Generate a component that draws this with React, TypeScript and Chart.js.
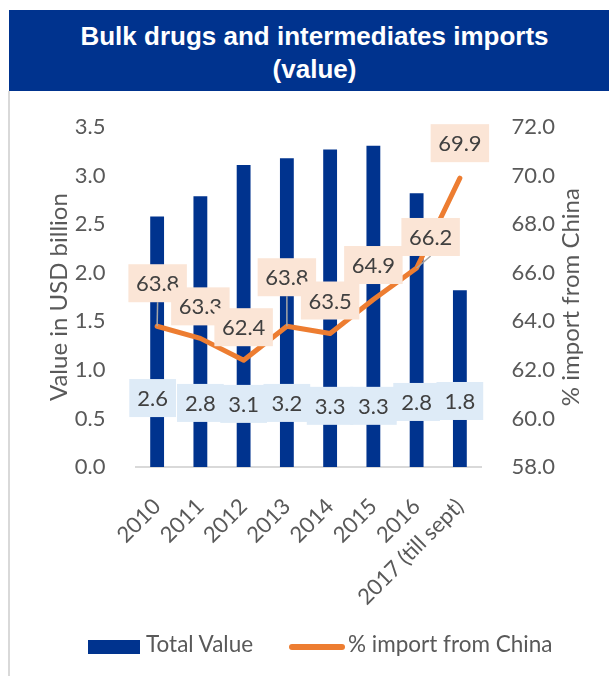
import React, { useEffect, useRef } from 'react';
import { Chart, registerables } from 'chart.js';

Chart.register(...registerables);

// ---------- data ----------
const categories = ['2010', '2011', '2012', '2013', '2014', '2015', '2016', '2017 (till sept)'];
const totalValue = [2.58, 2.79, 3.11, 3.18, 3.27, 3.31, 2.82, 1.82];
const chinaShare = [63.8, 63.3, 62.4, 63.8, 63.5, 64.9, 66.2, 69.9];

const titleLines = ['Bulk drugs and intermediates imports', '(value)'];
const leftAxisTitle = 'Value in USD billion';
const rightAxisTitle = '% import from China';
const barSeriesName = 'Total Value';
const lineSeriesName = '% import from China';

// ---------- styling ----------
const BLUE = '#00338E';
const ORANGE = '#ED7D31';
const TICK_COLOR = '#595959';
const LABEL_COLOR = '#404040';
const FONT = 'Lato';

// label placement (pixel offsets from the mark, and bar-label anchor values)
const lineLabelDx = [0.5, 0, 0, 0, 0, 0, 14, 0];
const lineLabelDy = [-43, -32, -33, -49, -33, -34.5, -31, -35];
const lineLabelLeader = [true, false, false, true, false, false, true, false];
const barLabelDx = [-4.5, 0, 0, 0, 0, 0, 0, 0];
const barLabelAt = [0.71, 0.66, 0.65, 0.66, 0.63, 0.63, 0.67, 0.68];

const labelPlugin = {
  id: 'customLabels',
  afterDatasetsDraw(chart: any) {
    const ctx = chart.ctx as CanvasRenderingContext2D;
    const yScale = chart.scales.y;
    const barMeta = chart.getDatasetMeta(0);
    const lineMeta = chart.getDatasetMeta(1);
    ctx.save();
    ctx.font = `22px ${FONT}`;
    ctx.textAlign = 'center';
    ctx.textBaseline = 'middle';
    const H = 38;

    // bar value labels
    barMeta.data.forEach((bar: any, i: number) => {
      const text = totalValue[i].toFixed(1);
      const w = ctx.measureText(text).width + 16;
      const cx = bar.x + barLabelDx[i];
      const cy = yScale.getPixelForValue(barLabelAt[i]);
      ctx.fillStyle = '#DEEBF7';
      ctx.fillRect(cx - w / 2, cy - H / 2, w, H);
      ctx.fillStyle = LABEL_COLOR;
      ctx.fillText(text, cx, cy + 1);
    });

    // line value labels
    lineMeta.data.forEach((pt: any, i: number) => {
      const text = chinaShare[i].toFixed(1);
      const w = ctx.measureText(text).width + 15;
      const cx = pt.x + lineLabelDx[i];
      const cy = pt.y + lineLabelDy[i];
      if (lineLabelLeader[i]) {
        ctx.strokeStyle = '#A6A6A6';
        ctx.lineWidth = 1.5;
        ctx.beginPath();
        ctx.moveTo(pt.x, pt.y);
        ctx.lineTo(cx, cy + H / 2);
        ctx.stroke();
      }
      ctx.fillStyle = '#FBE5D6';
      ctx.fillRect(cx - w / 2, cy - H / 2, w, H);
      ctx.fillStyle = LABEL_COLOR;
      ctx.fillText(text, cx, cy + 1);
    });
    ctx.restore();
  },
  afterDraw(chart: any) {
    const ctx = chart.ctx as CanvasRenderingContext2D;
    const a = chart.chartArea;
    const midY = (a.top + a.bottom) / 2;
    const drawTitle = (text: string, x: number) => {
      ctx.save();
      ctx.font = `24px ${FONT}`;
      ctx.fillStyle = TICK_COLOR;
      ctx.textAlign = 'center';
      ctx.textBaseline = 'middle';
      ctx.translate(x, midY);
      ctx.rotate(-Math.PI / 2);
      ctx.fillText(text, 0, 0);
      ctx.restore();
    };
    drawTitle(leftAxisTitle, a.left - 76.5);
    drawTitle(rightAxisTitle, a.right + 89.3);
  },
};

function ChartCanvas() {
  const ref = useRef<HTMLCanvasElement | null>(null);
  useEffect(() => {
    if (!ref.current) return;
    const tickFont = { family: FONT, size: 22 };
    const chart = new Chart(ref.current, {
      type: 'bar',
      data: {
        labels: categories,
        datasets: [
          {
            type: 'bar',
            label: barSeriesName,
            data: totalValue,
            backgroundColor: BLUE,
            barPercentage: 0.32,
            categoryPercentage: 1,
            yAxisID: 'y',
            order: 1,
          } as any,
          {
            type: 'line',
            label: lineSeriesName,
            data: chinaShare,
            borderColor: ORANGE,
            backgroundColor: ORANGE,
            borderWidth: 5,
            pointRadius: 0,
            tension: 0,
            borderJoinStyle: 'round',
            borderCapStyle: 'round',
            yAxisID: 'y1',
            order: 0,
          } as any,
        ],
      },
      options: {
        responsive: false,
        animation: false,
        layout: { padding: { left: 0, right: 0, top: 31, bottom: 0 } },
        plugins: {
          legend: { display: false },
          tooltip: { enabled: false },
          title: { display: false },
        },
        scales: {
          x: {
            offset: true,
            grid: { display: false },
            border: { display: true, color: '#D9D9D9', width: 2 },
            ticks: {
              color: TICK_COLOR,
              font: tickFont,
              maxRotation: 45,
              minRotation: 45,
              autoSkip: false,
              padding: 18.5,
            },
            afterFit: (s: any) => { s.height = 209; },
          },
          y: {
            position: 'left',
            min: 0,
            max: 3.5,
            grid: { display: false },
            border: { display: false },
            ticks: {
              stepSize: 0.5,
              color: TICK_COLOR,
              font: tickFont,
              padding: 22,
              callback: (v: any) => Number(v).toFixed(1),
            },
            afterFit: (s: any) => { s.width = 125.5; },
          },
          y1: {
            position: 'right',
            min: 58,
            max: 72,
            grid: { display: false },
            border: { display: false },
            ticks: {
              stepSize: 2,
              color: TICK_COLOR,
              font: tickFont,
              padding: 22,
              callback: (v: any) => Number(v).toFixed(1),
            },
            afterFit: (s: any) => { s.width = 127.5; },
          },
        },
      } as any,
      plugins: [labelPlugin],
    });
    return () => chart.destroy();
  }, []);
  return (
    <canvas
      ref={ref}
      width={599}
      height={584}
      style={{ position: 'absolute', left: 10, top: 92, width: 599, height: 584 }}
    />
  );
}

const legendText: React.CSSProperties = {
  position: 'absolute',
  top: 630.1,
  fontFamily: FONT,
  fontSize: 22.5,
  lineHeight: 1.2,
  color: TICK_COLOR,
  whiteSpace: 'nowrap',
};

export default function App() {
  return (
    <div style={{ position: 'relative', width: 609, height: 676, overflow: 'hidden', background: '#fff' }}>
      <style>{'html,body{margin:0;padding:0;overflow:hidden;background:#fff}'}</style>
      <div
        style={{
          position: 'absolute',
          left: 9,
          top: 10,
          width: 611,
          height: 81,
          background: BLUE,
          color: '#fff',
          fontFamily: '"Liberation Sans", Arial, sans-serif',
          fontWeight: 'bold',
          fontSize: 26,
          lineHeight: '33px',
          textAlign: 'center',
          paddingTop: 10,
          boxSizing: 'border-box',
        }}
      >
        {titleLines.map((t) => (
          <div key={t}>{t}</div>
        ))}
      </div>
      <div style={{ position: 'absolute', left: 8, top: 91, width: 2, height: 585, background: '#D9D9D9' }} />
      <ChartCanvas />
      <div style={{ position: 'absolute', left: 88, top: 640, width: 52, height: 14, background: BLUE }} />
      <span style={{ ...legendText, left: 146 }}>{barSeriesName}</span>
      <div style={{ position: 'absolute', left: 289, top: 644, width: 56, height: 6, borderRadius: 3, background: ORANGE }} />
      <span style={{ ...legendText, left: 348 }}>{lineSeriesName}</span>
    </div>
  );
}
